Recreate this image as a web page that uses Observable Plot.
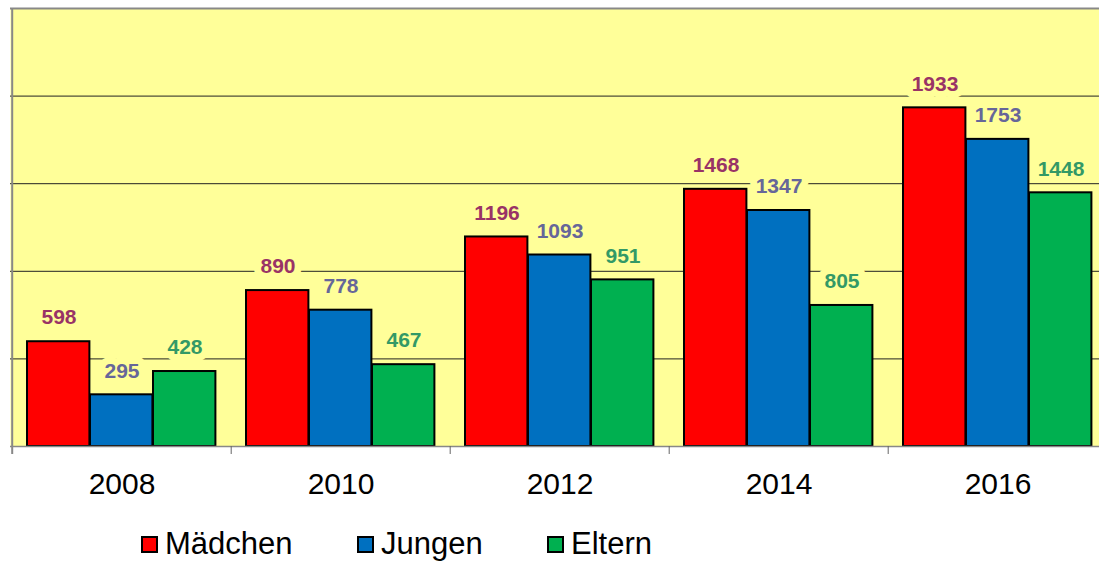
<!DOCTYPE html>
<html><head><meta charset="utf-8">
<script src="https://cdn.jsdelivr.net/npm/d3@7"></script>
<script src="https://cdn.jsdelivr.net/npm/@observablehq/plot@0.6"></script>
<style>
body{margin:0;background:#fff;font-family:Arial,"Liberation Sans",sans-serif;}
#legend{position:relative;height:50px;width:1099px;}
.item{position:absolute;top:0;display:flex;align-items:center;height:58px;font-size:31px;color:#000;}
.sw{width:17px;height:17px;border:2px solid #000;box-sizing:border-box;margin-right:7px;}
</style></head><body>
<div id="chart"></div>
<div id="legend"></div>
<script>
const years = ["2008", "2010", "2012", "2014", "2016"];
const seriesNames = ["Mädchen", "Jungen", "Eltern"];
const maedchen = [598, 890, 1196, 1468, 1933];
const jungen = [295, 778, 1093, 1347, 1753];
const eltern = [428, 467, 951, 805, 1448];
const gridValues = [500, 1000, 1500, 2000];
const yMax = 2500;

const barColors = ["#FF0000", "#0070C0", "#00B050"];
const labelColors = ["#993366", "#666699", "#339966"];
const seriesValues = [maedchen, jungen, eltern];

const W = 1099, H = 515, mTop = 8, mBottom = 69, xLeft = 10, xRight = 1108;
const step = (xRight - xLeft) / years.length;
const barW = 63;
const plotH = H - mTop - mBottom;
const tickLen = 8 * yMax / plotH;

const tables = seriesValues.map(vals => years.map((y, j) => ({year: y, value: vals[j]})));

const marks = [
  Plot.frame({fill: "#FFFF99", stroke: null}),
  Plot.ruleY(gridValues, {stroke: "#222", strokeWidth: 1}),
  Plot.ruleY([yMax], {stroke: "#888", strokeWidth: 2}),
];

tables.forEach((t, i) => {
  const left = 15 + i * barW;
  marks.push(Plot.barY(t, {
    x: "year", y: "value", fill: barColors[i], stroke: "#000", strokeWidth: 2,
    insetLeft: left, insetRight: step - left - barW
  }));
});

marks.push(Plot.ruleY([0], {stroke: "#888", strokeWidth: 1.5}));
marks.push(Plot.ruleX([years[0]], {dx: -step / 2, y1: -tickLen, y2: yMax, stroke: "#888", strokeWidth: 2}));
marks.push(Plot.ruleX(years.slice(1), {x: d => d, dx: -step / 2, y1: 0, y2: -tickLen, stroke: "#666", strokeWidth: 1}));

tables.forEach((t, i) => {
  marks.push(Plot.text(t, {
    x: "year", y: "value", text: d => String(d.value),
    dx: (i - 1) * barW, dy: -24, lineAnchor: "middle",
    fill: labelColors[i], stroke: "#FFFF99", strokeWidth: 14, strokeLinejoin: "round",
    fontSize: 21, fontWeight: "bold"
  }));
});

marks.push(Plot.axisX({tickSize: 0, tickPadding: 26, fontSize: 30, label: null, fill: "#000"}));

const chart = Plot.plot({
  width: W, height: H,
  marginTop: mTop, marginBottom: mBottom, marginLeft: xLeft, marginRight: 0,
  style: {fontFamily: "Arial, 'Liberation Sans', sans-serif", fontSize: "30px", background: "#fff", color: "#000"},
  x: {domain: years, range: [xLeft, xRight], padding: 0},
  y: {domain: [0, yMax], axis: null},
  marks
});
document.getElementById("chart").appendChild(chart);

const legendX = [141, 357, 547];
const legend = document.getElementById("legend");
seriesNames.forEach((name, i) => {
  const item = document.createElement("div");
  item.className = "item";
  item.style.left = legendX[i] + "px";
  const sw = document.createElement("span");
  sw.className = "sw";
  sw.style.background = barColors[i];
  const tx = document.createElement("span");
  tx.textContent = name;
  item.appendChild(sw);
  item.appendChild(tx);
  legend.appendChild(item);
});
</script>
</body></html>
